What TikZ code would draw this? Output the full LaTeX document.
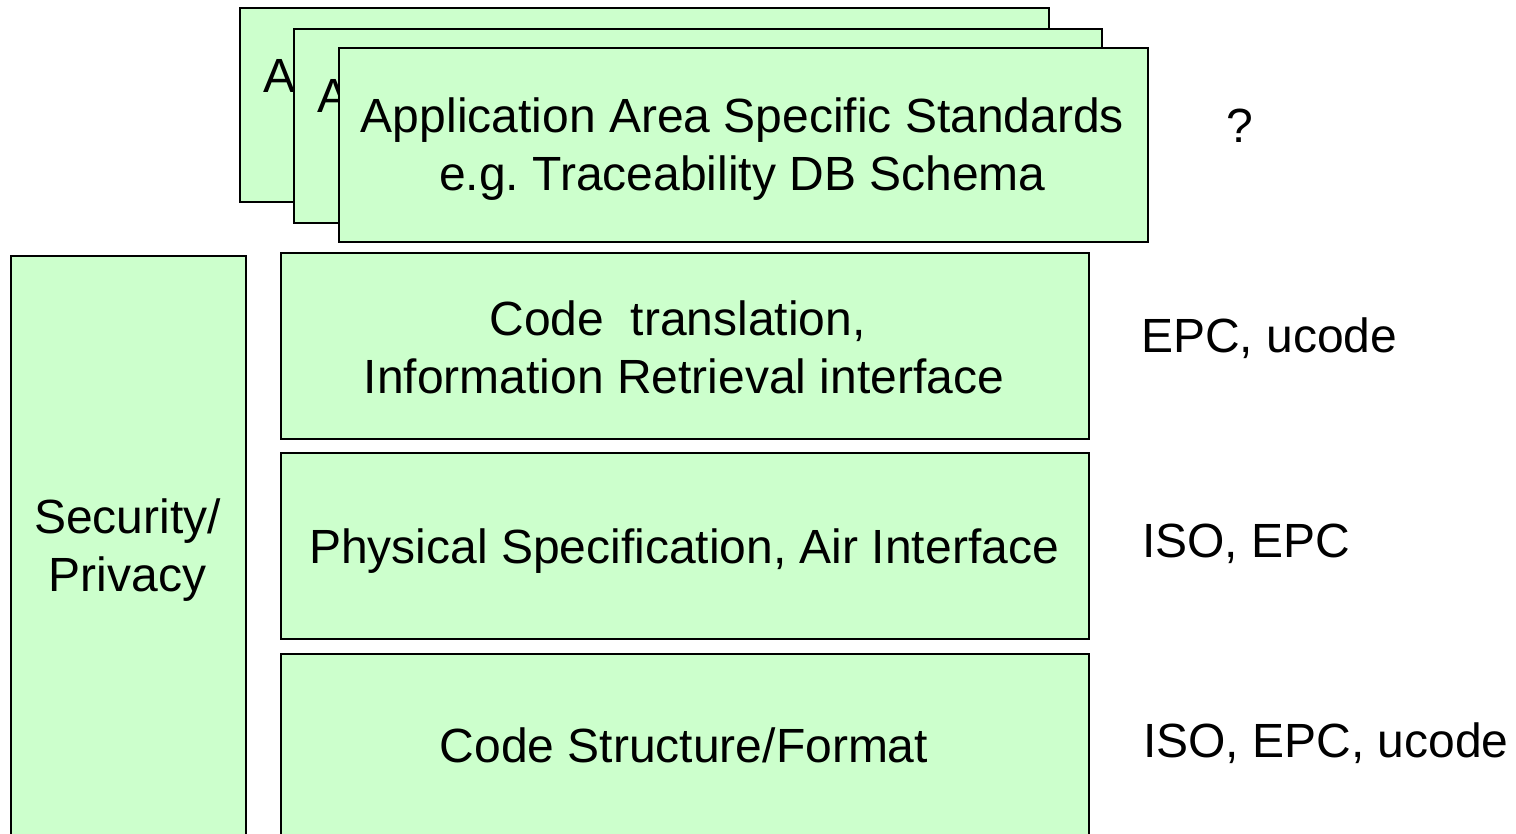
\documentclass[tikz,border=0pt]{standalone}
\usepackage{fontspec}
\setmainfont{Liberation Sans}
\frenchspacing
\definecolor{layerfill}{HTML}{CCFFCC}
\begin{document}
\begin{tikzpicture}[x=1pt, y=-1pt,
  layer/.style={draw=black, line width=2pt, fill=layerfill, inner sep=0pt, anchor=north west},
  label/.style={font=\fontsize{48}{58}\selectfont, inner sep=0pt, align=center},
  side/.style={font=\fontsize{48}{58}\selectfont, inner sep=0pt, anchor=base west}]
\useasboundingbox (0,0) rectangle (1516,834);
\begin{scope}
\clip (0,0) rectangle (1516,834);
% stacked application-area sheets
\node[layer, minimum width=809, minimum height=194] (app1) at (239,7) {};
\node[label, anchor=base west] (app1t) at (263,93) {A};
\node[layer, minimum width=808, minimum height=194] (app2) at (293,28) {};
\node[label, anchor=base west] (app2t) at (317,113) {A};
\node[layer, minimum width=809, minimum height=194] (app3) at (338,47) {};
\node[label, anchor=base] (app3t) at (742.5,191) {Application Area Specific Standards\\e.g. Traceability DB Schema};
% layer stack
\node[layer, minimum width=808, minimum height=186] (code) at (280,252) {};
\node[label, anchor=base] (codet) at (684,393) {Code\ \ translation,\hspace*{13pt}\\Information Retrieval interface};
\node[layer, minimum width=808, minimum height=186] (phys) at (280,452) {};
\node[label, anchor=base] (physt) at (684,563) {Physical Specification, Air Interface};
\node[layer, minimum width=808, minimum height=186] (struct) at (280,653) {};
\node[label, anchor=base] (structt) at (684,762) {Code Structure/Format};
% cross-cutting concern
\node[layer, minimum width=235, minimum height=584] (sec) at (10,255) {};
\node[label, anchor=base] (sect) at (127.5,591) {Security/\\Privacy};
\end{scope}
% standards bodies
\node[side] (q) at (1226,143) {?};
\node[side] (epc1) at (1141,353) {EPC, ucode};
\node[side] (epc2) at (1142,557) {ISO, EPC};
\node[side] (epc3) at (1143,757) {ISO, EPC, ucode};
\end{tikzpicture}
\end{document}
